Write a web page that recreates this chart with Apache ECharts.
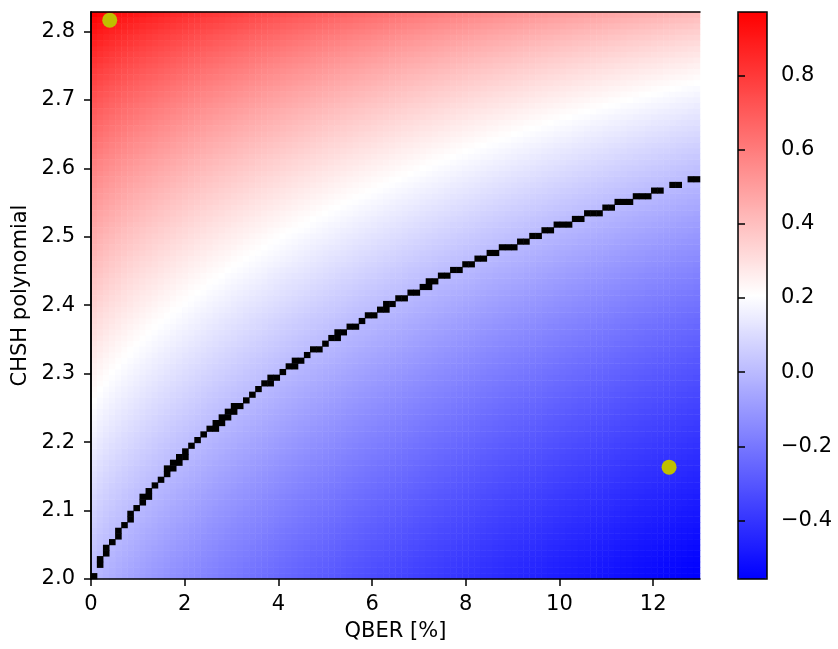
<!DOCTYPE html>
<html>
<head>
<meta charset="utf-8">
<script src="https://cdn.jsdelivr.net/npm/echarts@6/dist/echarts.min.js"></script>
<style>html,body{margin:0;padding:0;background:#fff}#c{width:838px;height:649px}</style>
</head>
<body>
<div id="c"></div>
<script>
// Column term: binary entropy of the QBER for each of the 100 QBER columns (0 .. 13 %)
const qberEntropy = [
0.00000,0.01446,0.02630,0.03714,0.04733,0.05705,0.06638,0.07539,0.08412,0.09262,
0.10090,0.10899,0.11691,0.12466,0.13227,0.13974,0.14708,0.15429,0.16140,0.16839,
0.17529,0.18208,0.18879,0.19540,0.20193,0.20838,0.21475,0.22105,0.22727,0.23342,
0.23951,0.24552,0.25148,0.25737,0.26320,0.26898,0.27470,0.28036,0.28597,0.29152,
0.29703,0.30248,0.30789,0.31325,0.31856,0.32383,0.32905,0.33422,0.33936,0.34445,
0.34950,0.35451,0.35948,0.36441,0.36931,0.37416,0.37898,0.38376,0.38851,0.39322,
0.39789,0.40254,0.40714,0.41172,0.41626,0.42077,0.42524,0.42969,0.43411,0.43849,
0.44284,0.44717,0.45146,0.45573,0.45997,0.46417,0.46835,0.47251,0.47663,0.48073,
0.48480,0.48885,0.49287,0.49686,0.50083,0.50477,0.50869,0.51258,0.51645,0.52029,
0.52411,0.52791,0.53168,0.53543,0.53915,0.54286,0.54653,0.55019,0.55383,0.55744];

// Row term: CHSH-dependent part for each of the 100 CHSH rows (2 .. 2.828)
const chshTerm = [
0.00000,0.00600,0.01203,0.01811,0.02424,0.03040,0.03661,0.04286,0.04916,0.05550,
0.06189,0.06832,0.07479,0.08132,0.08789,0.09450,0.10117,0.10788,0.11465,0.12146,
0.12832,0.13523,0.14220,0.14921,0.15628,0.16340,0.17057,0.17780,0.18509,0.19243,
0.19983,0.20728,0.21479,0.22236,0.23000,0.23769,0.24544,0.25326,0.26114,0.26908,
0.27709,0.28517,0.29331,0.30152,0.30981,0.31816,0.32659,0.33509,0.34366,0.35231,
0.36104,0.36985,0.37874,0.38771,0.39677,0.40592,0.41515,0.42447,0.43388,0.44339,
0.45300,0.46270,0.47251,0.48242,0.49244,0.50257,0.51281,0.52317,0.53365,0.54425,
0.55498,0.56585,0.57685,0.58799,0.59928,0.61072,0.62232,0.63409,0.64603,0.65816,
0.67047,0.68298,0.69571,0.70865,0.72183,0.73526,0.74896,0.76295,0.77725,0.79189,
0.80689,0.82230,0.83816,0.85453,0.87148,0.88912,0.90759,0.92709,0.94801,0.97110];

const zeroBand = 0.00476;               // cells this close to zero are drawn black
const qberRange = [0, 13];
const chshRange = [2, 2.8284271];
const xTicks = [0, 2, 4, 6, 8, 10, 12];
const yTicks = [2.0, 2.1, 2.2, 2.3, 2.4, 2.5, 2.6, 2.7, 2.8];
const cbTicks = [-0.4, -0.2, 0.0, 0.2, 0.4, 0.6, 0.8];
const markQber = [0.40, 12.34];
const markChsh = [2.8165, 2.1634];

const colCats = qberEntropy.map((_, i) => i);
const rowCats = chshTerm.map((_, j) => j);
const cells = [], zeroCells = [];
let vMin = Infinity, vMax = -Infinity;
colCats.forEach(i => rowCats.forEach(j => {
  const v = chshTerm[j] - qberEntropy[i];
  cells.push([i, j, v]);
  if (Math.abs(v) < zeroBand) zeroCells.push([i, j, v]);
  vMin = Math.min(vMin, v); vMax = Math.max(vMax, v);
}));
const points = markQber.map((q, k) => [q, markChsh[k]]);

const FONT = 'DejaVu Sans';
const FS = 21;
const black = '#000';
const LW = 1.5;
const fmt1 = v => (v < 0 ? '\u2212' : '') + Math.abs(v).toFixed(1);

const chart = echarts.init(document.getElementById('c'), null, {renderer: 'canvas'});
chart.setOption({
  animation: false,
  textStyle: {fontFamily: FONT, color: black},
  grid: [
    {left: 91, top: 12, width: 609, height: 567, show: false},
    {left: 738, top: 12, width: 29, height: 567, show: true, z: 10,
     borderColor: black, borderWidth: LW, backgroundColor: 'transparent'}
  ],
  xAxis: [
    {type: 'category', gridIndex: 0, data: colCats, position: 'top', boundaryGap: true, z: 10,
     axisLine: {show: true, lineStyle: {color: black, width: LW}},
     axisTick: {show: false}, axisLabel: {show: false}, splitLine: {show: false}},
    {type: 'value', gridIndex: 0, min: qberRange[0], max: qberRange[1], position: 'bottom', z: 10,
     name: 'QBER [%]', nameLocation: 'middle', nameGap: 42,
     nameTextStyle: {fontSize: FS, color: black, fontFamily: FONT},
     axisLine: {show: true, onZero: false, lineStyle: {color: black, width: LW}},
     axisTick: {show: true, length: 7, customValues: xTicks, lineStyle: {color: black, width: LW}},
     axisLabel: {show: true, customValues: xTicks, margin: 15, fontSize: FS, color: black,
                 fontFamily: FONT, formatter: v => String(Math.round(v))},
     splitLine: {show: false}},
    {type: 'value', gridIndex: 1, min: 0, max: 1, show: false}
  ],
  yAxis: [
    {type: 'category', gridIndex: 0, data: rowCats, position: 'right', boundaryGap: true, z: 10,
     axisLine: {show: true, lineStyle: {color: black, width: LW}},
     axisTick: {show: false}, axisLabel: {show: false}, splitLine: {show: false}},
    {type: 'value', gridIndex: 0, min: chshRange[0], max: chshRange[1], position: 'left', z: 10,
     name: 'CHSH polynomial', nameLocation: 'middle', nameGap: 60, nameRotate: 90,
     nameTextStyle: {fontSize: FS, color: black, fontFamily: FONT},
     axisLine: {show: true, onZero: false, lineStyle: {color: black, width: LW}},
     axisTick: {show: true, length: 7, customValues: yTicks, lineStyle: {color: black, width: LW}},
     axisLabel: {show: true, customValues: yTicks, margin: 16, fontSize: FS, color: black,
                 fontFamily: FONT, formatter: v => v.toFixed(1)},
     splitLine: {show: false}},
    {type: 'value', gridIndex: 1, min: vMin, max: vMax, position: 'right', z: 10,
     axisLine: {show: false},
     axisTick: {show: true, length: 7, customValues: cbTicks, lineStyle: {color: black, width: LW}},
     axisLabel: {show: true, customValues: cbTicks, margin: 14, fontSize: FS, color: black,
                 fontFamily: FONT, formatter: fmt1},
     splitLine: {show: false}}
  ],
  visualMap: {
    type: 'continuous', seriesIndex: 0, dimension: 2, min: vMin, max: vMax,
    inRange: {color: ['#0000ff', '#ffffff', '#ff0000']},
    orient: 'vertical', left: 738, top: 12, itemWidth: 29, itemHeight: 567,
    padding: 0, calculable: false, hoverLink: false, realtime: false, z: 4
  },
  series: [
    {type: 'heatmap', xAxisIndex: 0, yAxisIndex: 0, data: cells, progressive: 0,
     itemStyle: {borderWidth: 0}, emphasis: {disabled: true}},
    {type: 'heatmap', xAxisIndex: 0, yAxisIndex: 0, data: zeroCells, progressive: 0,
     itemStyle: {color: black, borderWidth: 0}, emphasis: {disabled: true}},
    {type: 'scatter', xAxisIndex: 1, yAxisIndex: 1, data: points, symbolSize: 15, z: 5,
     itemStyle: {color: '#bfbf00', opacity: 1}, emphasis: {disabled: true}},
    {type: 'scatter', xAxisIndex: 2, yAxisIndex: 2, data: [], silent: true}
  ]
});
</script>
</body>
</html>
